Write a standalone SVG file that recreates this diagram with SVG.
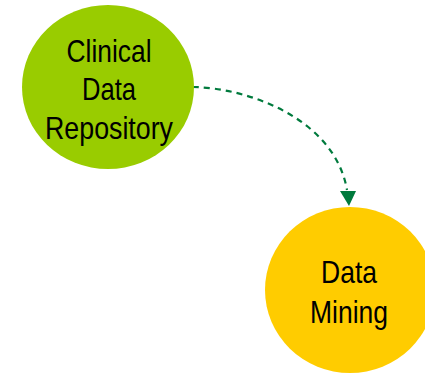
<svg xmlns="http://www.w3.org/2000/svg" width="425" height="373" viewBox="0 0 425 373">
<style>
.lbl{font-family:"Liberation Sans Narrow","Liberation Sans",Arial,sans-serif;font-size:32px;fill:#000;text-anchor:middle}
.conn{fill:none;stroke:#007a3d;stroke-width:2.2;stroke-dasharray:6,5}
</style>
<rect width="425" height="373" fill="#fff"/>
<g id="connectors">
<path class="conn" d="M193,87 C250,88 335,120 347,190"/>
<path d="M340,191 L356,191 L349,206 z" fill="#007a3d"/>
</g>
<g id="clinical-data-repository">
<ellipse cx="108" cy="87" rx="86" ry="82" fill="#99cc00"/>
<text class="lbl" x="109" y="62" textLength="85" lengthAdjust="spacingAndGlyphs">Clinical</text>
<text class="lbl" x="109" y="100" textLength="54" lengthAdjust="spacingAndGlyphs">Data</text>
<text class="lbl" x="109" y="139" textLength="128" lengthAdjust="spacingAndGlyphs">Repository</text>
</g>
<g id="data-mining">
<ellipse cx="350" cy="290" rx="85" ry="83" fill="#ffcc00"/>
<text class="lbl" x="349" y="283" textLength="56" lengthAdjust="spacingAndGlyphs">Data</text>
<text class="lbl" x="349" y="323" textLength="78" lengthAdjust="spacingAndGlyphs">Mining</text>
</g>
</svg>
